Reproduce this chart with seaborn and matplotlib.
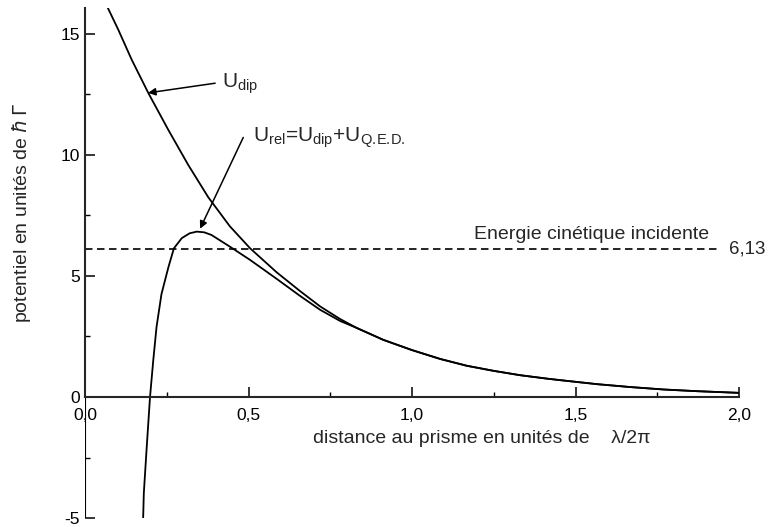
import numpy as np
import pandas as pd
import matplotlib
matplotlib.use("Agg")
import matplotlib.pyplot as plt
import matplotlib.ticker as mticker
import seaborn as sns

# ------------------------------------------------------------
# valeurs (distance en unités de lambda/2pi)
# ------------------------------------------------------------
x_dip = [0.069, 0.102, 0.143, 0.194, 0.255, 0.316, 0.377, 0.443, 0.505,
         0.586, 0.657, 0.719, 0.780, 0.831, 0.912, 0.999, 1.086, 1.167,
         1.249, 1.330, 1.417, 1.463, 1.565, 1.667, 1.768, 1.870, 2.000]
u_dip = [16.10, 15.17, 13.93, 12.55, 11.03, 9.58, 8.25, 7.05, 6.14,
         5.15, 4.38, 3.74, 3.22, 2.85, 2.36, 1.94, 1.57, 1.29,
         1.08, 0.90, 0.75, 0.68, 0.53, 0.41, 0.31, 0.24, 0.17]

x_rel = [0.178, 0.180, 0.189, 0.199, 0.209, 0.219, 0.234, 0.255, 0.272,
         0.296, 0.320, 0.342, 0.365, 0.387, 0.443, 0.505, 0.586, 0.657,
         0.719, 0.780, 0.831, 0.912, 0.999, 1.086, 1.167, 1.249, 1.330,
         1.417, 1.463, 1.565, 1.667, 1.768, 1.870, 2.000]
u_rel = [-5.00, -3.98, -2.05, 0.00, 1.53, 2.90, 4.25, 5.35, 6.14,
         6.56, 6.76, 6.83, 6.80, 6.69, 6.21, 5.66, 4.88, 4.18,
         3.60, 3.14, 2.85, 2.36, 1.94, 1.57, 1.29, 1.08, 0.90,
         0.75, 0.68, 0.53, 0.41, 0.31, 0.24, 0.17]

e_kin = 6.13
e_kin_label = "6,13"

x_ticks = [0.0, 0.5, 1.0, 1.5, 2.0]
y_ticks = [-5, 0, 5, 10, 15]

sns.set_style("ticks")
plt.rcParams["font.family"] = ["Liberation Sans", "DejaVu Sans"]
plt.rcParams["mathtext.fontset"] = "dejavusans"
plt.rcParams["axes.unicode_minus"] = False

fig = plt.figure(figsize=(7.79, 5.27), dpi=100)
ax = fig.add_axes([0.109, 0.017, 0.840, 0.968])

df_dip = pd.DataFrame({"x": x_dip, "u": u_dip})
df_rel = pd.DataFrame({"x": x_rel, "u": u_rel})
sns.lineplot(data=df_dip, x="x", y="u", color="black", lw=1.3, ax=ax)
sns.lineplot(data=df_rel, x="x", y="u", color="black", lw=1.3, ax=ax)

# énergie cinétique incidente
ax.hlines(e_kin, 0, 1.94, colors="black", lw=1.2, linestyles=(0, (4.5, 2.7)))
ax.text(1.97, e_kin, e_kin_label, fontsize=13.5, va="center", ha="left")
ax.text(1.548, 6.35, "Energie cinétique incidente", fontsize=14,
        ha="center", va="bottom")

# annotations
ax.annotate("", xy=(0.193, 12.56), xytext=(0.398, 12.96),
            arrowprops=dict(arrowstyle="-|>", color="black", lw=1.1,
                            mutation_scale=11, shrinkA=0, shrinkB=0))
ax.text(0.419, 12.8, r"U$_{\mathregular{dip}}$", fontsize=15, va="baseline")

ax.annotate("", xy=(0.352, 6.95), xytext=(0.484, 10.72),
            arrowprops=dict(arrowstyle="-|>", color="black", lw=1.1,
                            mutation_scale=11, shrinkA=0, shrinkB=0))
ax.text(0.514, 10.55,
        r"U$_{\mathregular{rel}}$=U$_{\mathregular{dip}}$+U$_{\mathregular{Q.\!E.\!D.}}$",
        fontsize=15, va="baseline")

# axes
ax.set_xlim(0, 2.0)
ax.set_ylim(-5.0, 16.07)
ax.spines["top"].set_visible(False)
ax.spines["right"].set_visible(False)
ax.spines["bottom"].set_position(("data", 0))
ax.spines["bottom"].set_linewidth(1.5)
ax.spines["left"].set_bounds(0, 16.07)
ax.spines["left"].set_linewidth(1.5)
ax.axvline(0, ymin=0, ymax=5.0 / 21.07, color="black", lw=0.8)

ax.set_xticks(x_ticks)
ax.set_yticks(y_ticks)
ax.xaxis.set_minor_locator(mticker.MultipleLocator(0.25))
ax.yaxis.set_minor_locator(mticker.MultipleLocator(2.5))
ax.xaxis.set_major_formatter(
    mticker.FuncFormatter(lambda v, p: f"{v:.1f}".replace(".", ",")))
ax.tick_params(which="major", direction="in", length=7, width=1.1,
               labelsize=12.5, color="black", labelcolor="black")
ax.tick_params(which="minor", direction="in", length=3.5, width=1,
               color="black")
ax.tick_params(axis="x", pad=8)

ax.set_xlabel("distance au prisme en unités de    λ/2π", fontsize=14,
              x=0.607, labelpad=5)
ax.set_ylabel(r"potentiel en unités de $\hbar\,\mathit{\Gamma}$", fontsize=14)
ax.yaxis.set_label_coords(-0.08, 0.598)

fig.savefig("out.png", dpi=100)
